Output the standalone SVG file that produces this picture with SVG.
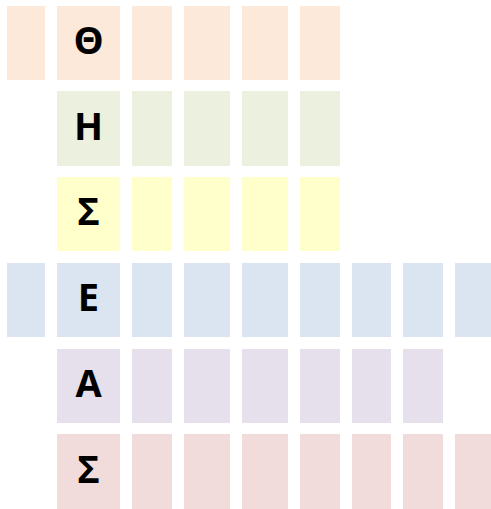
<svg xmlns="http://www.w3.org/2000/svg" width="491" height="509" viewBox="0 0 491 509">
<style>
.r1{fill:#FDE9D9}.r2{fill:#EBF1DE}.r3{fill:#FFFFCC}.r4{fill:#DBE5F1}.r5{fill:#E5E0EC}.r6{fill:#F2DCDB}
text{font-family:"Open Sans","DejaVu Sans",sans-serif;font-weight:bold;font-size:38px;text-anchor:middle;fill:#000}
</style>
<rect width="491" height="509" fill="#fff"/>
<g id="row1" class="r1">
<rect x="7" y="6" width="38" height="74"/>
<rect x="57" y="6" width="63" height="74"/>
<rect x="132" y="6" width="40" height="74"/>
<rect x="184" y="6" width="46" height="74"/>
<rect x="242" y="6" width="46" height="74"/>
<rect x="300" y="6" width="40" height="74"/>
<text x="88.5" y="54">Θ</text>
</g>
<g id="row2" class="r2">
<rect x="57" y="91" width="63" height="75"/>
<rect x="132" y="91" width="40" height="75"/>
<rect x="184" y="91" width="46" height="75"/>
<rect x="242" y="91" width="46" height="75"/>
<rect x="300" y="91" width="40" height="75"/>
<text x="88.5" y="139.5">Η</text>
</g>
<g id="row3" class="r3">
<rect x="57" y="177" width="63" height="74"/>
<rect x="132" y="177" width="40" height="74"/>
<rect x="184" y="177" width="46" height="74"/>
<rect x="242" y="177" width="46" height="74"/>
<rect x="300" y="177" width="40" height="74"/>
<text x="88.5" y="225">Σ</text>
</g>
<g id="row4" class="r4">
<rect x="7" y="263" width="38" height="74"/>
<rect x="57" y="263" width="63" height="74"/>
<rect x="132" y="263" width="40" height="74"/>
<rect x="184" y="263" width="46" height="74"/>
<rect x="242" y="263" width="46" height="74"/>
<rect x="300" y="263" width="40" height="74"/>
<rect x="352" y="263" width="39" height="74"/>
<rect x="403" y="263" width="40" height="74"/>
<rect x="455" y="263" width="36" height="74"/>
<text x="88.5" y="311">Ε</text>
</g>
<g id="row5" class="r5">
<rect x="57" y="349" width="63" height="74"/>
<rect x="132" y="349" width="40" height="74"/>
<rect x="184" y="349" width="46" height="74"/>
<rect x="242" y="349" width="46" height="74"/>
<rect x="300" y="349" width="40" height="74"/>
<rect x="352" y="349" width="39" height="74"/>
<rect x="403" y="349" width="40" height="74"/>
<text x="88.5" y="397">Α</text>
</g>
<g id="row6" class="r6">
<rect x="57" y="434" width="63" height="75"/>
<rect x="132" y="434" width="40" height="75"/>
<rect x="184" y="434" width="46" height="75"/>
<rect x="242" y="434" width="46" height="75"/>
<rect x="300" y="434" width="40" height="75"/>
<rect x="352" y="434" width="39" height="75"/>
<rect x="403" y="434" width="40" height="75"/>
<rect x="455" y="434" width="36" height="75"/>
<text x="88.5" y="482.5">Σ</text>
</g>
<g id="connectors"/>
</svg>
